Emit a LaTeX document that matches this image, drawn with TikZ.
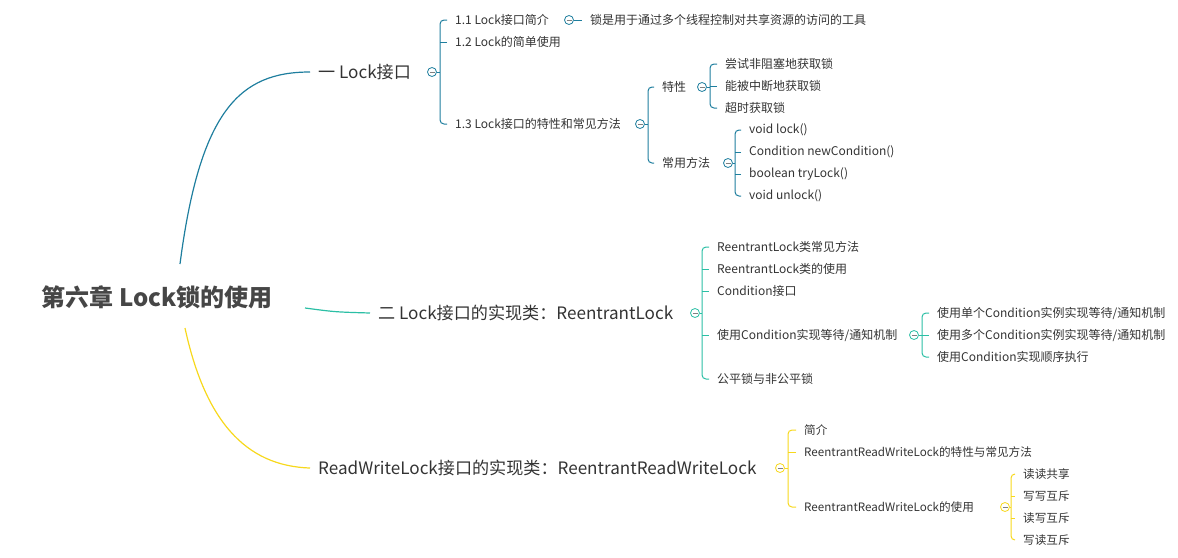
\documentclass[tikz,border=0pt]{standalone}
\usepackage{fontspec}
\setmainfont{Noto Sans CJK SC}
\usepackage{tikz}
\usetikzlibrary{positioning, calc}
\definecolor{lkblue}{RGB}{30,126,158}
\definecolor{lkgreen}{RGB}{43,191,165}
\definecolor{lkyellow}{RGB}{247,216,28}
\definecolor{lktext}{RGB}{51,51,51}
\definecolor{lkroot}{RGB}{70,70,70}
\tikzset{
  %% ---- text ----
  rootnode/.style = {font=\fontsize{24}{28}\selectfont\bfseries,
                     text=lkroot, inner sep=0pt},
  topic/.style    = {anchor=west, font=\fontsize{17.1}{21}\selectfont,
                     text=lktext, inner xsep=8pt, inner ysep=2pt},
  leaf/.style     = {anchor=west, font=\fontsize{12}{15}\selectfont,
                     text=lktext, inner xsep=8pt, inner ysep=1pt},
  leafs/.style    = {leaf, font=\fontsize{11.6}{14}\selectfont},
  %% ---- fold marks ----
  fold/.style     = {circle, draw=#1, fill=white, line width=0.8pt,
                     minimum size=9pt, inner sep=0pt,
                     path picture={\draw[gray, line width=0.7pt]
                       ([xshift=-2.5pt]path picture bounding box.center) --
                       ([xshift=2.5pt]path picture bounding box.center);}},
  %% ---- lines ----
  br/.style       = {draw=#1, line width=1pt, rounded corners=4pt},
  curve/.style    = {draw=#1, line width=1.2pt},
}

\begin{document}
\begin{tikzpicture}[x=1pt, y=-1pt]

  \useasboundingbox (0,0) rectangle (1178,557);

  \node[rootnode] (root) at (157,297) {第六章 Lock锁的使用};
  \coordinate (r1) at (180,264);
  \coordinate (r2) at (305,308);
  \coordinate (r3) at (185,328);

  %% first branch
  \node[topic] (t1) at (310,72) {一 Lock接口};
  \node[fold=lkblue] (o1) at (432,72) {};
  \coordinate (k1) at (440,72);
  \node[leaf] (a1) at (447,20) {1.1 Lock接口简介};
  \node[leaf] (a2) at (447,42) {1.2 Lock的简单使用};
  \node[leaf] (a3) at (447,124) {1.3 Lock接口的特性和常见方法};
  \node[fold=lkblue] (o11) at (569,20) {};
  \node[leaf] (a11) at (582,20) {锁是用于通过多个线程控制对共享资源的访问的工具};
  \node[fold=lkblue] (o13) at (640,124) {};
  \coordinate (k13) at (648,124);
  \node[leaf] (b1) at (654,87) {特性};
  \node[leaf] (b2) at (654,163) {常用方法};
  \node[fold=lkblue] (ob1) at (702,87) {};
  \coordinate (kb1) at (710,87);
  \node[leaf] (d1) at (717,64) {尝试非阻塞地获取锁};
  \node[leaf] (d2) at (717,86) {能被中断地获取锁};
  \node[leaf] (d3) at (717,108) {超时获取锁};
  \node[fold=lkblue] (ob2) at (728,163) {};
  \coordinate (kb2) at (735,163);
  \node[leaf] (e1) at (741,130) {void lock()};
  \node[leaf] (e2) at (741,152) {Condition newCondition()};
  \node[leaf] (e3) at (741,174) {boolean tryLock()};
  \node[leaf] (e4) at (741,196) {void unlock()};

  \draw[curve=lkblue] (r1) .. controls (200,110) and (240,72) .. (t1.west);
  \draw[br=lkblue] (o1) -- (k1);
  \draw[br=lkblue] (a1.west) -| (k1) |- (a3.west);
  \draw[br=lkblue] (a2.west) -- (a2.west -| k1);
  \draw[br=lkblue] (o11) -- (a11.west);
  \draw[br=lkblue] (o13) -- (k13);
  \draw[br=lkblue] (b1.west) -| (k13) |- (b2.west);
  \draw[br=lkblue] (ob1) -- (kb1);
  \draw[br=lkblue] (d1.west) -| (kb1) |- (d3.west);
  \draw[br=lkblue] (d2.west) -- (d2.west -| kb1);
  \draw[br=lkblue] (ob2) -- (kb2);
  \draw[br=lkblue] (e1.west) -| (kb2) |- (e4.west);
  \draw[br=lkblue] (e2.west) -- (e2.west -| kb2);
  \draw[br=lkblue] (e3.west) -- (e3.west -| kb2);

  %% second branch
  \node[topic] (t2) at (370,313) {二 Lock接口的实现类：ReentrantLock};
  \node[fold=lkgreen] (o2) at (695,313) {};
  \coordinate (k2) at (702,313);
  \node[leaf] (f1) at (709,247) {ReentrantLock类常见方法};
  \node[leaf] (f2) at (709,269) {ReentrantLock类的使用};
  \node[leaf] (f3) at (709,291) {Condition接口};
  \node[leaf] (f4) at (709,335) {使用Condition实现等待/通知机制};
  \node[leaf] (f5) at (709,379) {公平锁与非公平锁};
  \node[fold=lkgreen] (o24) at (914,335) {};
  \coordinate (k24) at (922,335);
  \node[leaf] (g1) at (929,313) {使用单个Condition实例实现等待/通知机制};
  \node[leaf] (g2) at (929,335) {使用多个Condition实例实现等待/通知机制};
  \node[leaf] (g3) at (929,357) {使用Condition实现顺序执行};

  \draw[curve=lkgreen] (r2) .. controls (335,312) .. (t2.west);
  \draw[br=lkgreen] (o2) -- (k2);
  \draw[br=lkgreen] (f1.west) -| (k2) |- (f5.west);
  \foreach \n in {f2,f3,f4}
    \draw[br=lkgreen] (\n.west) -- (\n.west -| k2);
  \draw[br=lkgreen] (o24) -- (k24);
  \draw[br=lkgreen] (g1.west) -| (k24) |- (g3.west);
  \draw[br=lkgreen] (g2.west) -- (g2.west -| k24);

  %% third branch
  \node[topic] (t3) at (310,468) {ReadWriteLock接口的实现类：ReentrantReadWriteLock};
  \node[fold=lkyellow] (o3) at (780,468) {};
  \coordinate (k3) at (788,468);
  \node[leafs] (h1) at (796,430) {简介};
  \node[leafs] (h2) at (796,452) {ReentrantReadWriteLock的特性与常见方法};
  \node[leafs] (h3) at (796,507) {ReentrantReadWriteLock的使用};
  \node[fold=lkyellow] (o33) at (1005,507) {};
  \coordinate (k33) at (1011,507);
  \node[leafs] (i1) at (1015,474) {读读共享};
  \node[leafs] (i2) at (1015,496) {写写互斥};
  \node[leafs] (i3) at (1015,518) {读写互斥};
  \node[leafs] (i4) at (1015,540) {写读互斥};

  \draw[curve=lkyellow] (r3) .. controls (205,420) and (245,466) .. (t3.west);
  \draw[br=lkyellow] (o3) -- (k3);
  \draw[br=lkyellow] (h1.west) -| (k3) |- (h3.west);
  \draw[br=lkyellow] (h2.west) -- (h2.west -| k3);
  \draw[br=lkyellow] (o33) -- (k33);
  \draw[br=lkyellow] (i1.west) -| (k33) |- (i4.west);
  \foreach \n in {i2,i3}
    \draw[br=lkyellow] (\n.west) -- (\n.west -| k33);

\end{tikzpicture}
\end{document}
